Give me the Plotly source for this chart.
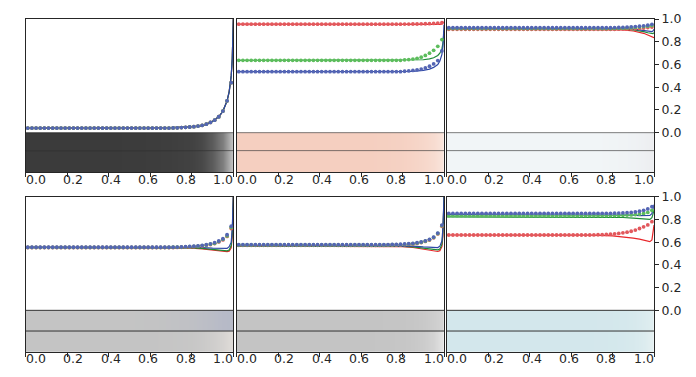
import plotly.graph_objects as go
from plotly.subplots import make_subplots

# ---------------- data ----------------
x_line = [0.0, 0.2, 0.4, 0.6, 0.7, 0.8, 0.85, 0.9, 0.93, 0.95, 0.97, 0.98, 0.99, 0.995, 1.0]
x_dot = [round(0.01 + 0.02 * i, 2) for i in range(50)]
x_ticks = [0.0, 0.2, 0.4, 0.6, 0.8, 1.0]
tick_text = ["0.0", "0.2", "0.4", "0.6", "0.8", "1.0"]
y_ticks = [0.0, 0.2, 0.4, 0.6, 0.8, 1.0]

# panel 1
p1_red_line = [0.04, 0.04, 0.04, 0.042, 0.045, 0.052, 0.06, 0.1, 0.14, 0.19, 0.28, 0.36, 0.5, 0.65, 1.0]
p1_green_line = [0.04, 0.04, 0.04, 0.042, 0.045, 0.052, 0.06, 0.1, 0.14, 0.19, 0.28, 0.36, 0.5, 0.65, 1.0]
p1_blue_line = [0.04, 0.04, 0.04, 0.042, 0.045, 0.052, 0.06, 0.1, 0.14, 0.19, 0.28, 0.36, 0.5, 0.65, 1.0]
p1_tail = [0.042, 0.043, 0.045, 0.047, 0.05, 0.053, 0.058, 0.065, 0.075, 0.09, 0.11, 0.14, 0.19, 0.28, 0.44]
p1_red_dot = [0.04] * 35 + p1_tail
p1_green_dot = [0.04] * 35 + p1_tail
p1_blue_dot = [0.04] * 35 + p1_tail

# panel 2
p2_red_line = [0.955, 0.955, 0.955, 0.955, 0.955, 0.955, 0.954, 0.953, 0.952, 0.951, 0.952, 0.954, 0.958, 0.963, 0.975]
p2_green_line = [0.637, 0.637, 0.637, 0.637, 0.637, 0.637, 0.638, 0.642, 0.65, 0.66, 0.68, 0.70, 0.74, 0.79, 0.9]
p2_blue_line = [0.537, 0.537, 0.537, 0.537, 0.537, 0.538, 0.54, 0.548, 0.56, 0.575, 0.6, 0.63, 0.69, 0.76, 0.95]
p2_red_dot = [0.955] * 40 + [0.956, 0.956, 0.957, 0.957, 0.958, 0.959, 0.96, 0.962, 0.965, 0.968]
p2_green_dot = [0.637] * 40 + [0.641, 0.644, 0.648, 0.655, 0.665, 0.68, 0.70, 0.725, 0.76, 0.82]
p2_blue_dot = [0.537] * 40 + [0.541, 0.544, 0.548, 0.553, 0.56, 0.57, 0.585, 0.605, 0.635, 0.72]

# panel 3
p3_red_line = [0.91, 0.91, 0.91, 0.91, 0.91, 0.908, 0.905, 0.895, 0.885, 0.875, 0.86, 0.852, 0.845, 0.84, 0.836]
p3_green_line = [0.915, 0.915, 0.915, 0.915, 0.915, 0.914, 0.912, 0.905, 0.898, 0.89, 0.88, 0.875, 0.87, 0.872, 0.88]
p3_blue_line = [0.92, 0.92, 0.92, 0.92, 0.92, 0.919, 0.918, 0.912, 0.905, 0.9, 0.893, 0.89, 0.89, 0.895, 0.91]
p3_red_dot = [0.91] * 40 + [0.91, 0.911, 0.912, 0.913, 0.914, 0.916, 0.918, 0.921, 0.925, 0.93]
p3_green_dot = [0.917] * 40 + [0.918, 0.919, 0.92, 0.922, 0.924, 0.927, 0.93, 0.934, 0.938, 0.943]
p3_blue_dot = [0.924] * 40 + [0.925, 0.926, 0.927, 0.929, 0.931, 0.934, 0.937, 0.941, 0.946, 0.954]

# panel 4
p4_red_line = [0.553, 0.553, 0.553, 0.553, 0.552, 0.548, 0.54, 0.53, 0.522, 0.518, 0.516, 0.52, 0.55, 0.65, 1.0]
p4_green_line = [0.554, 0.554, 0.554, 0.554, 0.553, 0.55, 0.545, 0.537, 0.53, 0.526, 0.524, 0.53, 0.57, 0.68, 1.0]
p4_blue_line = [0.556, 0.556, 0.556, 0.556, 0.556, 0.555, 0.553, 0.548, 0.545, 0.543, 0.545, 0.56, 0.6, 0.72, 1.0]
p4_red_dot = [0.553] * 35 + [0.553, 0.554, 0.555, 0.556, 0.558, 0.56, 0.563, 0.567, 0.572, 0.579, 0.588, 0.602, 0.62, 0.65, 0.72]
p4_green_dot = [0.554] * 35 + [0.555, 0.556, 0.557, 0.558, 0.56, 0.562, 0.565, 0.57, 0.575, 0.582, 0.59, 0.605, 0.625, 0.655, 0.73]
p4_blue_dot = [0.555] * 35 + [0.556, 0.557, 0.558, 0.56, 0.562, 0.565, 0.568, 0.572, 0.578, 0.585, 0.595, 0.61, 0.63, 0.665, 0.74]

# panel 5
p5_red_line = [0.565, 0.565, 0.565, 0.565, 0.564, 0.56, 0.553, 0.54, 0.53, 0.522, 0.518, 0.525, 0.56, 0.66, 1.0]
p5_green_line = [0.567, 0.567, 0.567, 0.567, 0.566, 0.563, 0.558, 0.548, 0.54, 0.535, 0.533, 0.54, 0.58, 0.69, 1.0]
p5_blue_line = [0.57, 0.57, 0.57, 0.57, 0.57, 0.568, 0.565, 0.558, 0.553, 0.55, 0.552, 0.565, 0.61, 0.73, 1.0]
p5_red_dot = [0.572] * 35 + [0.572, 0.573, 0.574, 0.575, 0.576, 0.578, 0.581, 0.584, 0.589, 0.596, 0.606, 0.619, 0.638, 0.672, 0.74]
p5_green_dot = [0.575] * 35 + [0.575, 0.576, 0.577, 0.578, 0.579, 0.581, 0.584, 0.587, 0.592, 0.599, 0.609, 0.622, 0.642, 0.676, 0.745]
p5_blue_dot = [0.578] * 35 + [0.578, 0.579, 0.58, 0.581, 0.582, 0.584, 0.587, 0.59, 0.595, 0.602, 0.612, 0.625, 0.645, 0.68, 0.75]

# panel 6
p6_red_line = [0.663, 0.663, 0.663, 0.663, 0.661, 0.655, 0.648, 0.636, 0.627, 0.618, 0.608, 0.605, 0.62, 0.67, 0.75]
p6_green_line = [0.822, 0.822, 0.822, 0.822, 0.821, 0.82, 0.817, 0.812, 0.807, 0.803, 0.80, 0.80, 0.815, 0.84, 0.88]
p6_blue_line = [0.843, 0.843, 0.843, 0.843, 0.843, 0.842, 0.84, 0.837, 0.834, 0.832, 0.832, 0.835, 0.85, 0.88, 0.93]
p6_red_dot = [0.663] * 35 + [0.664, 0.665, 0.666, 0.668, 0.67, 0.673, 0.677, 0.682, 0.688, 0.696, 0.706, 0.72, 0.735, 0.752, 0.78]
p6_green_dot = [0.833] * 40 + [0.834, 0.835, 0.836, 0.838, 0.84, 0.843, 0.847, 0.853, 0.862, 0.88]
p6_blue_dot = [0.854] * 40 + [0.855, 0.856, 0.857, 0.859, 0.862, 0.866, 0.872, 0.88, 0.892, 0.912]

# colour strips below each panel (intensity along x)
strip_x = [0.0, 0.2, 0.4, 0.6, 0.7, 0.8, 0.85, 0.9, 0.95, 1.0]
s1_top = [0, 0, 0, 0.01, 0.02, 0.04, 0.08, 0.2, 0.4, 0.85]
s1_bot = [0, 0, 0, 0.01, 0.02, 0.04, 0.08, 0.2, 0.4, 0.85]
s2_top = [0, 0, 0, 0, 0.02, 0.08, 0.15, 0.25, 0.4, 0.7]
s2_bot = [0, 0, 0, 0, 0.02, 0.08, 0.15, 0.25, 0.4, 0.7]
s3_top = [0, 0, 0, 0, 0, 0.1, 0.2, 0.3, 0.5, 0.8]
s3_bot = [0, 0, 0, 0, 0, 0.1, 0.2, 0.3, 0.5, 0.8]
s4_top = [0, 0, 0, 0.05, 0.15, 0.3, 0.45, 0.6, 0.8, 0.9]
s4_bot = [0, 0, 0, 0, 0.05, 0.1, 0.2, 0.35, 0.55, 0.9]
s5_top = [0, 0, 0, 0, 0.02, 0.05, 0.1, 0.2, 0.4, 0.7]
s5_bot = [0, 0, 0, 0, 0.02, 0.05, 0.1, 0.2, 0.4, 0.85]
s6_top = [0, 0, 0, 0, 0.02, 0.05, 0.1, 0.2, 0.4, 0.7]
s6_bot = [0, 0, 0, 0, 0.02, 0.05, 0.1, 0.2, 0.4, 0.8]

# ---------------- styles ----------------
RED_L, GREEN_L, BLUE_L = "#e8262a", "#1c8a36", "#2d47a6"
RED_D, GREEN_D, BLUE_D = "#e2585c", "#5cbd5c", "#5465b4"
FRAME = "#262626"
FONT = "DejaVu Sans"

strip_colors = [
    (("#3b3b3b", "#e6e6e6"), ("#3b3b3b", "#e6e6e6")),
    (("#f5cfc0", "#fbf0ea"), ("#f5cfc0", "#fbf0ea")),
    (("#f1f5f7", "#ebebee"), ("#f1f5f7", "#ebebee")),
    (("#c4c4c4", "#b4b8c8"), ("#c4c4c4", "#e4e0dc")),
    (("#c4c4c4", "#dcdcdc"), ("#c4c4c4", "#ececec")),
    (("#d3e7ec", "#e6f1f2"), ("#d3e7ec", "#eaf3f3")),
]

panels = [
    ((p1_red_line, p1_green_line, p1_blue_line), (p1_red_dot, p1_green_dot, p1_blue_dot), (s1_top, s1_bot)),
    ((p2_red_line, p2_green_line, p2_blue_line), (p2_red_dot, p2_green_dot, p2_blue_dot), (s2_top, s2_bot)),
    ((p3_red_line, p3_green_line, p3_blue_line), (p3_red_dot, p3_green_dot, p3_blue_dot), (s3_top, s3_bot)),
    ((p4_red_line, p4_green_line, p4_blue_line), (p4_red_dot, p4_green_dot, p4_blue_dot), (s4_top, s4_bot)),
    ((p5_red_line, p5_green_line, p5_blue_line), (p5_red_dot, p5_green_dot, p5_blue_dot), (s5_top, s5_bot)),
    ((p6_red_line, p6_green_line, p6_blue_line), (p6_red_dot, p6_green_dot, p6_blue_dot), (s6_top, s6_bot)),
]

W, H = 696, 377
col_px = [(25.7, 233.3), (236.7, 444.0), (446.7, 654.0)]
row_px = [(19.1, 172.3), (196.7, 351.7)]
row_range = [(-0.349, 1.0), (-0.364, 1.0)]
row_mid = [-0.158, -0.182]
row_sep = ["rgba(0,0,0,0.5)", "#333333"]

fig = make_subplots(rows=2, cols=3)

for k, (lines, dots, strips) in enumerate(panels):
    r, c = divmod(k, 3)
    row, col = r + 1, c + 1
    lo, hi = row_range[r]
    mid = row_mid[r]
    # strips
    for half, (z, (c0, c1)) in enumerate(zip(strips, strip_colors[k])):
        if half == 0:
            ys = [0.25 * mid, 0.75 * mid]
        else:
            ys = [mid + 0.25 * (lo - mid), mid + 0.75 * (lo - mid)]
        fig.add_trace(go.Heatmap(x=strip_x, y=ys, z=[z, z], zmin=0, zmax=1,
                                 colorscale=[[0, c0], [1, c1]], zsmooth="best",
                                 showscale=False, hoverinfo="skip"), row=row, col=col)
    for yv, colr in zip(lines, (RED_L, GREEN_L, BLUE_L)):
        fig.add_trace(go.Scatter(x=x_line, y=yv, mode="lines",
                                 line=dict(color=colr, width=1.2), showlegend=False), row=row, col=col)
    for yv, colr in zip(dots, (RED_D, GREEN_D, BLUE_D)):
        fig.add_trace(go.Scatter(x=x_dot, y=yv, mode="markers",
                                 marker=dict(color=colr, size=3.8), showlegend=False), row=row, col=col)

    ax = "" if k == 0 else str(k + 1)
    x0p, x1p = col_px[c]
    y0p, y1p = row_px[r]
    fig.layout["xaxis" + ax].update(
        domain=[x0p / W, x1p / W], range=[0, 1], showgrid=False, zeroline=False,
        automargin=False, showline=True, mirror=True, linecolor=FRAME, linewidth=1,
        ticks="outside", ticklen=4, tickcolor=FRAME, tickvals=x_ticks, showticklabels=False)
    yax = dict(domain=[1 - y1p / H, 1 - y0p / H], range=[lo, hi], showgrid=False,
               zeroline=False, automargin=False, showline=True, mirror=True,
               linecolor=FRAME, linewidth=1)
    if c == 2:
        yax.update(side="right", ticks="outside", ticklen=4, tickcolor=FRAME,
                   tickvals=y_ticks, ticktext=["%.1f" % v for v in y_ticks],
                   tickfont=dict(family=FONT, size=12.5, color=FRAME))
    else:
        yax.update(showticklabels=False, ticks="")
    fig.layout["yaxis" + ax].update(**yax)

    xr = "x" + ax
    yr = "y" + ax
    fig.add_shape(type="line", xref=xr + " domain", x0=0, x1=1, yref=yr, y0=0, y1=0,
                  line=dict(color=row_sep[r], width=1), layer="above")
    fig.add_shape(type="line", xref=xr + " domain", x0=0, x1=1, yref=yr, y0=mid, y1=mid,
                  line=dict(color=row_sep[r], width=1), layer="above")
    for v, t in zip(x_ticks, tick_text):
        fig.add_annotation(x=0.05 + 0.9 * v, xref=xr, y=0, yref=yr + " domain",
                           yanchor="middle", yshift=-7, text=t, showarrow=False,
                           font=dict(family=FONT, size=12.5, color=FRAME))

fig.update_layout(width=W, height=H, margin=dict(l=0, r=0, t=0, b=0),
                  paper_bgcolor="white", plot_bgcolor="white", showlegend=False,
                  font=dict(family=FONT, size=12.5, color=FRAME))
fig.write_html(
    "out.html", config={"displayModeBar": False},
    post_script=(
        "document.documentElement.style.margin='0px';"
        "document.body.style.margin='0px';document.body.style.padding='0px';"
        "document.body.style.overflow='hidden';"
        "var gd=document.getElementById('{plot_id}');"
        "gd.style.position='fixed';gd.style.top='0px';gd.style.left='0px';"
    ),
)
